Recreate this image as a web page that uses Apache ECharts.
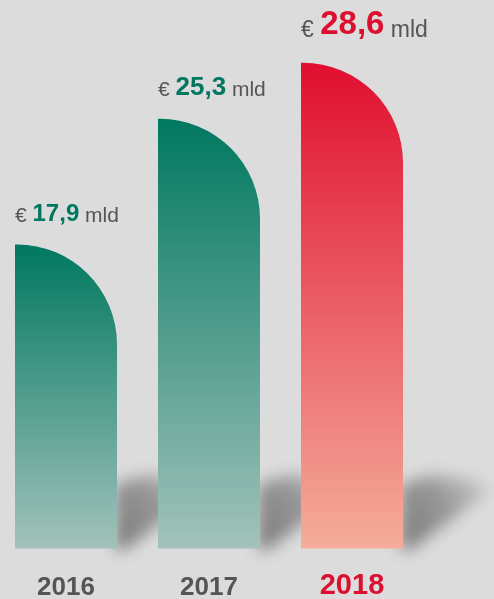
<!DOCTYPE html>
<html>
<head>
<meta charset="utf-8">
<script src="https://cdn.jsdelivr.net/npm/echarts@6/dist/echarts.min.js"></script>
<style>
html,body{margin:0;padding:0;background:#dcdcdc;}
#c{width:494px;height:599px;}
</style>
</head>
<body>
<div id="c"></div>
<script>
const years = ['2016', '2017', '2018'];
const values = [17.9, 25.3, 28.6];
const valueLabels = ['17,9', '25,3', '28,6'];
const unitPrefix = '€';
const unitSuffix = 'mld';

const teal = '#00785f';
const red = '#dc0f2f';
const grey = '#555555';

const barColors = [
  [teal, '#a2c2bb'],
  [teal, '#a2c2bb'],
  ['#e00e2f', '#f5ad9b']
];
const numColors = [teal, teal, red];
const big = [false, false, true];

const chart = echarts.init(document.getElementById('c'), null, {renderer: 'canvas'});
const BAR_W = 102;
const FONT = 'Liberation Sans';

const barData = values.map((v, i) => ({
  value: v,
  itemStyle: {
    color: {type: 'linear', x: 0, y: 0, x2: 0, y2: 1, colorStops: [
      {offset: 0, color: barColors[i][0]}, {offset: 1, color: barColors[i][1]}
    ]},
    borderRadius: [0, 100, 0, 0]
  },
  label: {
    show: true,
    position: [0, big[i] ? -21 : -18],
    align: 'left',
    verticalAlign: 'bottom',
    formatter: big[i]
      ? '{eb|' + unitPrefix + ' }{nb|' + valueLabels[i] + '}{mb| ' + unitSuffix + '}'
      : '{e|' + unitPrefix + ' }{n' + i + '|' + valueLabels[i] + '}{m| ' + unitSuffix + '}',
    rich: {
      e: {fontSize: 21, color: grey, fontFamily: FONT, lineHeight: 25, verticalAlign: 'bottom'},
      m: {fontSize: 21, color: grey, fontFamily: FONT, lineHeight: 25, verticalAlign: 'bottom'},
      n0: {fontSize: 24, fontWeight: 'bold', color: numColors[0], fontFamily: FONT, lineHeight: 27, verticalAlign: 'bottom'},
      n1: {fontSize: 26, fontWeight: 'bold', color: numColors[1], fontFamily: FONT, lineHeight: 28.2, verticalAlign: 'bottom'},
      eb: {fontSize: 23, color: grey, fontFamily: FONT, lineHeight: 26.1, verticalAlign: 'bottom'},
      mb: {fontSize: 23, color: grey, fontFamily: FONT, lineHeight: 26.1, verticalAlign: 'bottom'},
      nb: {fontSize: 33, fontWeight: 'bold', color: numColors[2], fontFamily: FONT, lineHeight: 33, verticalAlign: 'bottom'}
    }
  }
}));

chart.setOption({
  backgroundColor: '#dcdcdc',
  animation: false,
  grid: {left: -5.5, width: 429, top: 39, bottom: 50.5, containLabel: false, outerBoundsMode: 'none'},
  xAxis: {
    type: 'category',
    data: years,
    axisLine: {show: false},
    axisTick: {show: false},
    axisLabel: {
      margin: 22,
      formatter: v => v === '2018' ? '{r|' + v + '}' : '{g|' + v + '}',
      rich: {
        g: {fontSize: 26, fontWeight: 'bold', color: grey, fontFamily: FONT, lineHeight: 30, verticalAlign: 'bottom'},
        r: {fontSize: 29, fontWeight: 'bold', color: red, fontFamily: FONT, lineHeight: 30, verticalAlign: 'bottom'}
      }
    }
  },
  yAxis: {type: 'value', min: 0, max: 30, show: false, splitLine: {show: false}},
  series: [
    {
      type: 'custom',
      z: 1,
      clip: false,
      data: values.map((v, i) => [i, v]),
      renderItem: function (params, api) {
        const p = api.coord([api.value(0), 0]);
        const xr = p[0] + BAR_W / 2;
        const yb = p[1];
        const OFF = 1000;
        const pts = [
          [xr - 2, yb - 64],
          [xr + 30, yb - 74],
          [xr + 64, yb - 72],
          [xr + 92, yb - 62],
          [xr + 8, yb + 1],
          [xr - 2, yb + 1]
        ].map(q => [q[0] - OFF, q[1]]);
        return {
          type: 'polygon',
          shape: {points: pts},
          style: {
            fill: {type: 'linear', x: 0, y: 1, x2: 1, y2: 0, colorStops: [
              {offset: 0, color: 'rgba(0,0,0,1)'},
              {offset: 0.5, color: 'rgba(0,0,0,0.7)'},
              {offset: 1, color: 'rgba(0,0,0,0.05)'}
            ]},
            shadowBlur: 16,
            shadowColor: 'rgba(0,0,0,0.45)',
            shadowOffsetX: OFF,
            shadowOffsetY: 0
          }
        };
      }
    },
    {
      type: 'bar',
      z: 3,
      barWidth: BAR_W,
      data: barData
    }
  ]
});
</script>
</body>
</html>
